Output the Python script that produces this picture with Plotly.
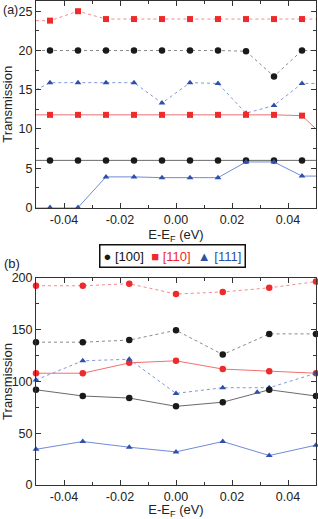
import plotly.graph_objects as go

# ---------------- Panel (a) data ----------------
xa_pts = [-0.045, -0.035, -0.025, -0.015, -0.005, 0.005, 0.015, 0.025, 0.035, 0.045]
xa_edge = [-0.05, 0.05]

a100_dot = [20.0, 20.0, 20.0, 20.0, 20.0, 20.0, 20.0, 19.9, 16.7, 20.0]
a100_dot_edge = [20.0, 20.0]
a110_dot = [23.8, 25.0, 24.0, 24.0, 24.0, 24.0, 24.0, 24.0, 24.0, 24.0]
a110_dot_edge = [23.8, 24.0]
a111_dot = [15.9, 15.9, 15.9, 15.9, 13.3, 15.9, 15.8, 12.0, 13.0, 15.8]
a111_dot_edge = [15.0, 15.8]
a110_sol = [11.8, 11.8, 11.8, 11.8, 11.8, 11.8, 11.8, 11.8, 11.8, 11.7]
a110_sol_edge = [11.8, 10.0]
a100_sol = [6.0, 6.0, 6.0, 6.0, 6.0, 6.0, 6.0, 6.0, 6.0, 6.0]
a100_sol_edge = [6.0, 6.0]
a111_sol = [0.0, 0.0, 3.9, 3.9, 3.8, 3.8, 3.8, 5.8, 5.8, 4.0]
a111_sol_edge = [0.0, 4.0]

# ---------------- Panel (b) data ----------------
xb_pts = [-0.05, -0.0333, -0.0167, 0.0, 0.0167, 0.0333, 0.05]
b110_dot = [192.5, 192.5, 194.5, 184.5, 186.5, 190.5, 196.5]
b100_dot = [138, 138, 140, 149.5, 126, 146, 146]
b110_sol = [108, 108, 118, 120, 112, 110, 108]
b111_dot = [101.5, 120, 121.5, 88.5, 94, 94, 108]
b100_sol = [92, 86, 84, 76, 80, 92, 86]
b111_sol = [34.5, 42, 36.5, 32, 42, 28.5, 38.5]
b111_extra_x = [0.029]
b111_extra_y = [89.5]

x_ticks = [-0.04, -0.02, 0.00, 0.02, 0.04]
x_ticklabels = ["-0.04", "-0.02", "0.00", "0.02", "0.04"]

names = ["[100]", "[110]", "[111]"]

BLACK = "#1a1a1a"
RED = "#ee2a2a"
BLUE = "#2f4fa8"
BLACK_L = "#6a6a6a"
RED_L = "#f07070"
BLUE_L = "#6f8ad8"
BLACK_D = "#8a8a8a"
RED_D = "#f48a8a"
BLUE_D = "#7f98dc"

FONT = "Liberation Sans"

fig = go.Figure()


def ext(xp, yp, ye):
    return [xa_edge[0]] + xp + [xa_edge[1]], [ye[0]] + yp + [ye[1]]


def msize(symbol):
    return 6.5 if symbol == "circle" else 6


def add_a(yp, ye, lcolor, dash, mcolor, symbol):
    xs, ys = ext(xa_pts, yp, ye)
    fig.add_trace(go.Scatter(x=xs, y=ys, mode="lines", xaxis="x", yaxis="y",
                             line=dict(color=lcolor, width=1, dash=dash),
                             showlegend=False, hoverinfo="skip"))
    fig.add_trace(go.Scatter(x=xa_pts, y=yp, mode="markers", xaxis="x", yaxis="y",
                             marker=dict(color=mcolor, symbol=symbol, size=msize(symbol)),
                             showlegend=False, cliponaxis=False, hoverinfo="skip"))


add_a(a100_dot, a100_dot_edge, BLACK_D, "dot", BLACK, "circle")
add_a(a110_dot, a110_dot_edge, RED_D, "dot", RED, "square")
add_a(a111_dot, a111_dot_edge, BLUE_D, "dot", BLUE, "triangle-up")
add_a(a110_sol, a110_sol_edge, RED_L, "solid", RED, "square")
add_a(a100_sol, a100_sol_edge, BLACK_L, "solid", BLACK, "circle")
add_a(a111_sol, a111_sol_edge, BLUE_L, "solid", BLUE, "triangle-up")


def add_b(yp, lcolor, dash, mcolor, symbol):
    fig.add_trace(go.Scatter(x=xb_pts, y=yp, mode="lines+markers", xaxis="x2", yaxis="y2",
                             line=dict(color=lcolor, width=1, dash=dash),
                             marker=dict(color=mcolor, symbol=symbol, size=msize(symbol)),
                             showlegend=False, cliponaxis=False, hoverinfo="skip"))


add_b(b110_dot, RED_D, "dot", RED, "circle")
add_b(b100_dot, BLACK_D, "dot", BLACK, "circle")
add_b(b110_sol, RED_L, "solid", RED, "circle")
add_b(b111_dot, BLUE_D, "dot", BLUE, "triangle-up")
add_b(b100_sol, BLACK_L, "solid", BLACK, "circle")
add_b(b111_sol, BLUE_L, "solid", BLUE, "triangle-up")
fig.add_trace(go.Scatter(x=b111_extra_x, y=b111_extra_y, mode="markers", xaxis="x2", yaxis="y2",
                         marker=dict(color=BLUE, symbol="triangle-up", size=6),
                         showlegend=False, hoverinfo="skip"))

W, H = 318, 519
xdom = [36 / W, 316 / W]
ya_dom = [1 - 207.5 / H, 1 - 1 / H]
yb_dom = [1 - 485 / H, 1 - 278 / H]

axis_common = dict(showline=True, linecolor="#333333", linewidth=1, mirror="ticks",
                   ticks="inside", ticklen=5, tickcolor="#333333", tickwidth=1,
                   showgrid=False, zeroline=False,
                   tickfont=dict(family=FONT, size=12.5, color="#222222"),
                   automargin=False)

xaxis_common = dict(axis_common, range=[-0.05, 0.05], tickvals=x_ticks, ticktext=x_ticklabels,
                    minor=dict(ticks="inside", ticklen=3, dtick=0.01, tick0=0, tickcolor="#333333"),
                    title=dict(text="E-E<sub>F</sub> (eV)", font=dict(family=FONT, size=13, color="#222222"),
                               standoff=4))

# legend built as one text line with coloured symbols
legend_text = ("<span style='color:%s'>●</span> <span style='color:#111111'>%s</span>  "
               "<span style='color:%s'>■</span> <span style='color:%s'>%s</span>  "
               "<span style='color:%s'>▲</span> <span style='color:%s'>%s</span>") % (
    BLACK, names[0], RED, RED, names[1], BLUE, BLUE, names[2])

fig.update_layout(
    width=W, height=H,
    margin=dict(l=0, r=0, t=0, b=0),
    paper_bgcolor="white", plot_bgcolor="white",
    showlegend=False,
    xaxis=dict(xaxis_common, domain=xdom, anchor="y"),
    yaxis=dict(axis_common, domain=ya_dom, anchor="x", range=[0, 26.3], dtick=5,
               minor=dict(ticks="inside", ticklen=3, dtick=2.5, tick0=0, tickcolor="#333333"),
               title=dict(text="Transmission", font=dict(family=FONT, size=13, color="#222222"),
                          standoff=6)),
    xaxis2=dict(xaxis_common, domain=xdom, anchor="y2"),
    yaxis2=dict(axis_common, domain=yb_dom, anchor="x2", range=[0, 200], dtick=50,
                minor=dict(ticks="inside", ticklen=3, dtick=25, tick0=0, tickcolor="#333333"),
                title=dict(text="Transmission", font=dict(family=FONT, size=13, color="#222222"),
                           standoff=6)),
    annotations=[
        dict(text="(a)", x=0.5 / W, y=1 - 10 / H, xref="paper", yref="paper", showarrow=False,
             xanchor="left", yanchor="middle", font=dict(family=FONT, size=12.5, color="#222222")),
        dict(text="(b)", x=2 / W, y=1 - 263 / H, xref="paper", yref="paper", showarrow=False,
             xanchor="left", yanchor="middle", font=dict(family=FONT, size=13, color="#222222")),
        dict(text=legend_text, x=172.5 / W, y=1 - 256 / H, xref="paper", yref="paper", showarrow=False,
             xanchor="center", yanchor="middle", font=dict(family=FONT, size=13, color="#111111"),
             bordercolor="#111111", borderwidth=1.5, borderpad=3, bgcolor="white"),
    ],
)

fig.write_html("out.html", config={"displayModeBar": False},
               post_script="document.body.style.margin='0';document.body.style.padding='0';")
